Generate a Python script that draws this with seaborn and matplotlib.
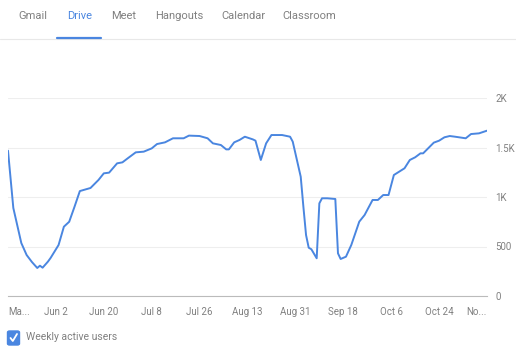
import matplotlib
matplotlib.use("Agg")
import matplotlib.pyplot as plt
import matplotlib.patches as mpatches
from matplotlib.lines import Line2D
import numpy as np
import pandas as pd
import seaborn as sns

# data: day offset from start date, weekly active users
start_date = "2020-05-15"
day_offset = [0, 2, 5, 7, 9, 11, 12, 13, 15, 16, 19, 21, 23, 25, 27, 31, 34, 36, 38, 41,
              43, 45, 48, 51, 54, 56, 59, 62, 66, 68, 72, 75, 77, 80, 82, 83, 85, 87, 89, 92,
              93, 95, 97, 99, 103, 106, 107, 108, 109, 110, 111, 112, 113, 114, 116, 117, 118, 120, 123, 124,
              125, 127, 129, 132, 134, 137, 139, 141, 143, 145, 147, 149, 151, 153, 155, 156, 160, 162, 164, 166,
              168, 172, 174, 177, 180]
users = [1468, 889, 535, 414, 343, 283, 306, 286, 347, 384, 515, 700, 750, 902, 1060, 1091, 1172, 1239, 1246, 1340,
         1350, 1391, 1451, 1458, 1491, 1535, 1552, 1593, 1593, 1620, 1616, 1593, 1542, 1525, 1481, 1481, 1552, 1576, 1609, 1582,
         1569, 1374, 1542, 1626, 1626, 1609, 1559, 1441, 1323, 1205, 902, 616, 488, 472, 381, 936, 987, 987, 980, 431,
         374, 397, 515, 751, 818, 970, 970, 1020, 1020, 1222, 1256, 1290, 1374, 1401, 1441, 1441, 1549, 1569, 1603, 1616,
         1609, 1593, 1636, 1643, 1670]

tick_days = [0, 18, 36, 54, 72, 90, 108, 126, 144, 162, 180]
tick_labels = ["Ma...", "Jun 2", "Jun 20", "Jul 8", "Jul 26", "Aug 13", "Aug 31", "Sep 18", "Oct 6", "Oct 24", "No..."]
y_ticks = [0, 500, 1000, 1500, 2000]
y_labels = ["0", "500", "1K", "1.5K", "2K"]
tabs = ["Gmail", "Drive", "Meet", "Hangouts", "Calendar", "Classroom"]
tab_x = [33, 80, 124, 179, 243, 309]

df = pd.DataFrame({"date": pd.Timestamp(start_date) + pd.to_timedelta(day_offset, unit="D"),
                   "users": users})

sns.set_style("white")
plt.rcParams["font.family"] = ["Roboto", "DejaVu Sans"]

blue = "#4a86e0"
grey = "#808080"

fig = plt.figure(figsize=(5.16, 3.58), dpi=100)
ax = fig.add_axes([8 / 516, 62 / 358, 479 / 516, 198 / 358])

sns.lineplot(data=df, x="date", y="users", ax=ax, color=blue, linewidth=1.4)

t0 = pd.Timestamp(start_date)
ax.set_xlim(t0, t0 + pd.Timedelta(days=180))
ax.set_ylim(0, 2000)
ax.set_xticks([t0 + pd.Timedelta(days=d) for d in tick_days])
ax.set_xticklabels(tick_labels, color=grey, fontsize=7)
labels = ax.get_xticklabels()
labels[0].set_ha("left")
labels[-1].set_ha("right")
ax.yaxis.tick_right()
ax.set_yticks(y_ticks)
ax.set_yticklabels(y_labels, color=grey, fontsize=7)
ax.tick_params(axis="y", length=0, pad=6)
ax.tick_params(axis="x", direction="in", length=3, color="#bbbbbb", pad=8)
ax.set_xlabel("")
ax.set_ylabel("")
ax.grid(axis="y", color="#eeeeee", linewidth=0.8)
for s in ["top", "left", "right"]:
    ax.spines[s].set_visible(False)
ax.spines["bottom"].set_color("#bbbbbb")
ax.spines["bottom"].set_linewidth(0.8)

# tabs
for name, x in zip(tabs, tab_x):
    fig.text(x / 516, 1 - 16 / 358, name, ha="center", va="center", fontsize=8,
             color=blue if name == "Drive" else grey)
fig.add_artist(Line2D([0, 1], [1 - 39 / 358] * 2, color="#e8e8e8", linewidth=0.8))
fig.add_artist(Line2D([57 / 516, 101 / 516], [1 - 37.5 / 358] * 2, color=blue, linewidth=1.6))

# legend with checkbox
box = mpatches.FancyBboxPatch((7.5 / 516, 1 - 345 / 358), 12 / 516, 14 / 358,
                              boxstyle="round,pad=0,rounding_size=0.004",
                              transform=fig.transFigure, facecolor=blue, edgecolor=blue)
fig.add_artist(box)
fig.add_artist(Line2D([10.5 / 516, 12.8 / 516, 17 / 516],
                      [1 - 338 / 358, 1 - 341 / 358, 1 - 334 / 358],
                      color="white", linewidth=1.3))
fig.text(26 / 516, 1 - 337 / 358, "Weekly active users", ha="left", va="center",
         fontsize=7.5, color=grey)

fig.savefig("out.png", dpi=100)
